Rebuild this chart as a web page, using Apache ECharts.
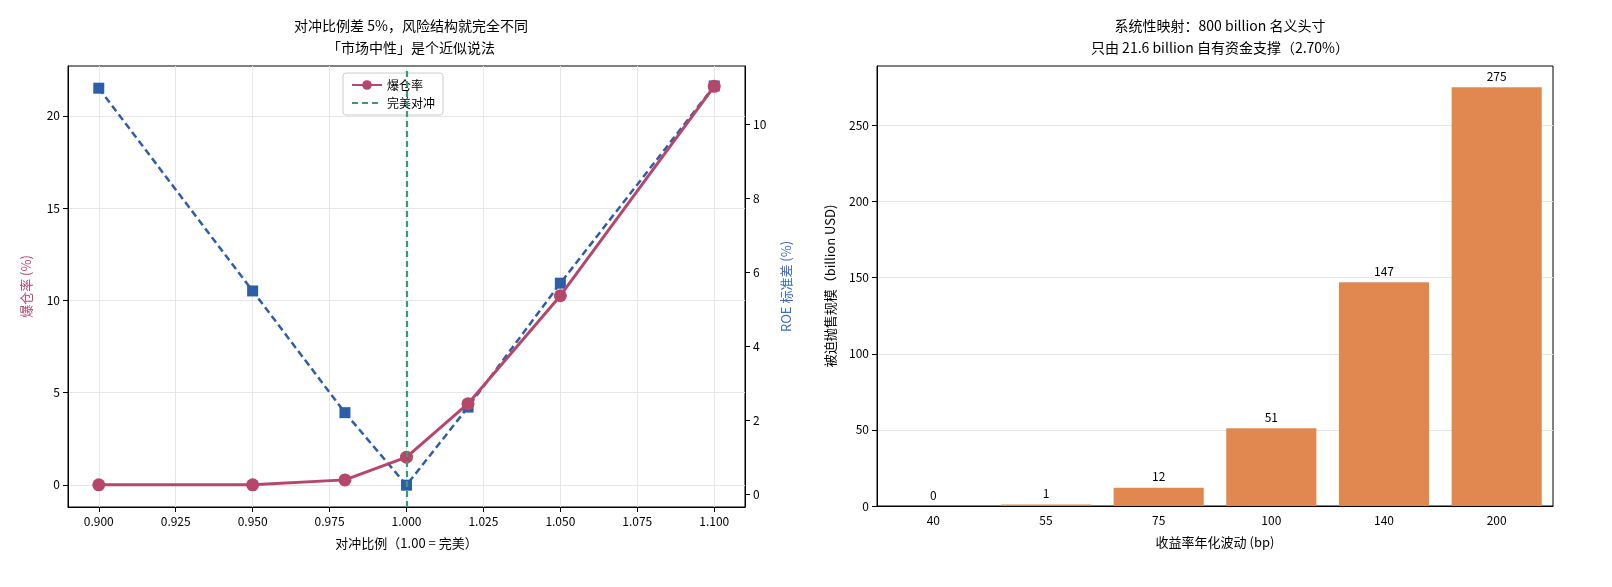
<!DOCTYPE html><html><head><meta charset="utf-8">
<script src="https://cdn.jsdelivr.net/npm/echarts@6/dist/echarts.min.js"></script>
<style>html,body{margin:0;padding:0;background:#fff}#c{width:1612px;height:587px}</style></head><body><div id="c"></div>
<script>
const hedgeRatio=[0.9,0.95,0.98,1.0,1.02,1.05,1.1];
const liqRate=[0,0,0.27,1.5,4.4,10.25,21.6];
const roeStd=[10.97,5.49,2.2,0.24,2.35,5.7,11.03];
const xTicks=[0.9,0.925,0.95,0.975,1.0,1.025,1.05,1.075,1.1];
const leftTicks=[0,5,10,15,20];
const rightTicks=[0,2,4,6,8,10];
const volCats=['40','55','75','100','140','200'];
const forcedSale=[0,1,12,51,147,275];
const F='"Noto Sans CJK SC","Noto Sans",sans-serif';
const ax={color:'#000'};
const ch=echarts.init(document.getElementById('c'));
ch.setOption({
 textStyle:{fontFamily:F},
 title:[
  {text:'对冲比例差 5%，风险结构就完全不同\n「市场中性」是个近似说法',left:406,textAlign:'center',top:10,textStyle:{fontSize:14,fontWeight:'normal',lineHeight:22,fontFamily:F,color:'#000'}},
  {text:'系统性映射：800 billion 名义头寸\n只由 21.6 billion 自有资金支撑（2.70%）',left:1215,textAlign:'center',top:10,textStyle:{fontSize:14,fontWeight:'normal',lineHeight:22,fontFamily:F,color:'#000'}}
 ],
 legend:{data:[{name:'爆仓率'},{name:'完美对冲',itemStyle:{opacity:0}}],orient:'vertical',left:343,top:73,itemWidth:30,itemHeight:12,itemGap:6,padding:[6,8],borderColor:'#ccc',borderWidth:1,borderRadius:3,backgroundColor:'#fff',textStyle:{fontSize:12,fontFamily:F,color:'#000'}},
 grid:[{left:68,right:867,top:66,bottom:80,show:true,borderColor:'#000',borderWidth:1},{left:877,right:59,top:66,bottom:81,show:true,borderColor:'#000',borderWidth:1}],
 xAxis:[
  {type:'value',gridIndex:0,min:0.89,max:1.11,name:'对冲比例（1.00 = 完美）',nameLocation:'middle',nameGap:30,nameTextStyle:{fontSize:13,color:'#000'},
   axisLine:{lineStyle:ax,onZero:false},axisTick:{show:true,customValues:xTicks,lineStyle:ax},
   axisLabel:{customValues:xTicks,formatter:v=>v.toFixed(3),color:'#000',fontSize:12},
   splitLine:{show:true,lineStyle:{color:'#e6e6e6'}}},
  {type:'category',gridIndex:1,data:volCats,name:'收益率年化波动 (bp)',nameLocation:'middle',nameGap:30,nameTextStyle:{fontSize:13,color:'#000'},
   axisLine:{lineStyle:ax},axisTick:{alignWithLabel:true,lineStyle:ax},axisLabel:{color:'#000',fontSize:12},splitLine:{show:false}}
 ],
 yAxis:[
  {type:'value',gridIndex:0,min:-1.2,max:22.7,name:'爆仓率 (%)',nameLocation:'middle',nameGap:35,nameTextStyle:{fontSize:13,color:'#b5476b'},
   axisLine:{show:true,lineStyle:ax},axisTick:{show:true,customValues:leftTicks,lineStyle:ax},axisLabel:{customValues:leftTicks,color:'#000',fontSize:12},
   splitLine:{show:true,lineStyle:{color:'#e6e6e6'}}},
  {type:'value',gridIndex:0,position:'right',min:-0.35,max:11.57,name:'ROE 标准差 (%)',nameLocation:'middle',nameGap:35,nameRotate:90,nameTextStyle:{fontSize:13,color:'#3a6bbf'},
   axisLine:{show:true,lineStyle:ax},axisTick:{show:true,customValues:rightTicks,lineStyle:ax},axisLabel:{customValues:rightTicks,color:'#000',fontSize:12},splitLine:{show:false}},
  {type:'value',gridIndex:1,min:0,max:289,interval:50,name:'被迫抛售规模（billion USD)',nameLocation:'middle',nameGap:40,nameTextStyle:{fontSize:13,color:'#000'},
   axisLine:{show:true,lineStyle:ax},axisTick:{show:true,lineStyle:ax},axisLabel:{color:'#000',fontSize:12,showMaxLabel:false},splitLine:{show:true,showMaxLine:false,lineStyle:{color:'#e6e6e6'}}}
 ],
 series:[
  {name:'ROE 标准差',type:'line',xAxisIndex:0,yAxisIndex:1,data:hedgeRatio.map((x,i)=>[x,roeStd[i]]),symbol:'rect',symbolSize:11,
   lineStyle:{color:'#2e5eaa',width:2.5,type:[7,4]},itemStyle:{color:'#2e5eaa'},z:3},
  {name:'爆仓率',type:'line',xAxisIndex:0,yAxisIndex:0,data:hedgeRatio.map((x,i)=>[x,liqRate[i]]),symbol:'circle',symbolSize:13,
   lineStyle:{color:'#b5476b',width:3},itemStyle:{color:'#b5476b'},z:4},
  {name:'完美对冲',type:'line',xAxisIndex:0,yAxisIndex:0,data:[],lineStyle:{color:'#3a9a74',type:[6,4],width:2.2},itemStyle:{color:'#3a9a74'},symbol:'none',
   markLine:{silent:true,symbol:'none',label:{show:false},lineStyle:{color:'#3a9a74',type:[6,4],width:2.2},data:[{xAxis:1.0}]}},
  {name:'forced',type:'bar',xAxisIndex:1,yAxisIndex:2,data:forcedSale,barWidth:'80%',itemStyle:{color:'#e08850'},
   label:{show:true,position:'top',color:'#000',fontSize:12}}
 ]
});
</script></body></html>
